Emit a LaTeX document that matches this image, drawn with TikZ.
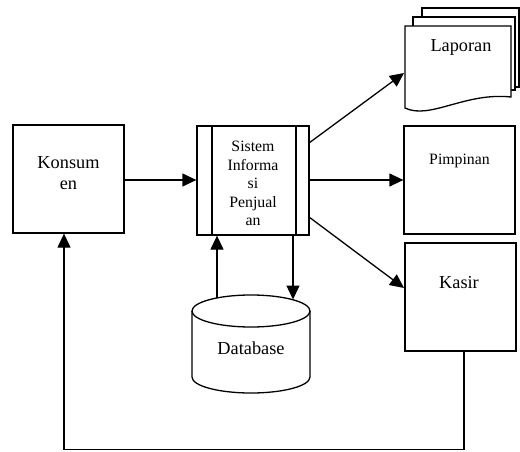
\documentclass[tikz,border=0pt]{standalone}
\usepackage{fontspec}
\setmainfont{Liberation Serif}
\usetikzlibrary{arrows.meta,calc}
\begin{document}
\begin{tikzpicture}[x=1pt,y=-1pt,line width=1.3pt,
  box/.style={draw,fill=white,minimum width=111pt,minimum height=108pt,inner sep=0pt},
  big/.style={font=\fontsize{18.3}{21}\selectfont,align=center,inner sep=0pt},
  small/.style={font=\fontsize{15.8}{18.5}\selectfont,align=center,inner sep=0pt},
  arr/.style={-{Triangle[length=14pt,width=13pt]}}]
\useasboundingbox (0,0) rectangle (520,451);
% boxes
\node[box] (kon) at (68.5,179) {};
\node[box,minimum width=112pt,minimum height=109pt] (si) at (253,180.5) {};
\draw (212,126) -- (212,235) (296,126) -- (296,235);
\node[box] (pim) at (459.5,180) {};
\node[box] (kas) at (460.5,297) {};
% texts
\node[big] (konT) at (68.5,173.5) {Konsum\\en};
\node[small] (siT) at (253,183.5) {Sistem\\Informa\\si\\Penjual\\an};
\node[small] (pimT) at (459.5,161) {Pimpinan};
\node[big] (kasT) at (459,283) {Kasir};
% Laporan (multi document)
\draw[fill=white] (422,8) rectangle (519,87);
\draw[fill=white] (413,17) rectangle (515,90);
\draw[fill=white] (405,26) -- (511,26) -- (511,97) .. controls (465,92) and (430,120) .. (405,108) -- cycle;
\node[big] (lapT) at (461,47) {Laporan};
\coordinate (lapIn) at (404,73);
% Database cylinder
\draw[fill=white] (192,311) -- (192,377) arc[start angle=180,end angle=360,x radius=59pt,y radius=16pt] -- (310,311);
\draw (251,311) ellipse [x radius=59pt,y radius=16pt];
\node[big] (dbT) at (251,348) {Database};
\coordinate (dbUp) at (217,298);
\coordinate (dbDown) at (293,299.5);
% connectors
\coordinate (konOut) at (124,180);
\draw[arr] (konOut) -- (konOut -| si.west);
\coordinate (siC) at (309,180);
\draw[arr] (siC) -- (siC -| pim.west);
\coordinate (siA) at (309,143);
\coordinate (siB) at (309,217);
\coordinate (kasIn) at (404,288);
\draw[arr] (siA) -- (lapIn);
\draw[arr] (siB) -- (kasIn);
\draw[arr] (dbUp) -- (dbUp |- si.south);
\draw[arr] (dbDown |- si.south) -- (dbDown);
\coordinate (fb1) at (464,449.5);
\coordinate (fb2) at (64,449.5);
\draw[arr] (fb1 |- kas.south) -- (fb1) -- (fb2) -- (fb2 |- kon.south);
\end{tikzpicture}
\end{document}
